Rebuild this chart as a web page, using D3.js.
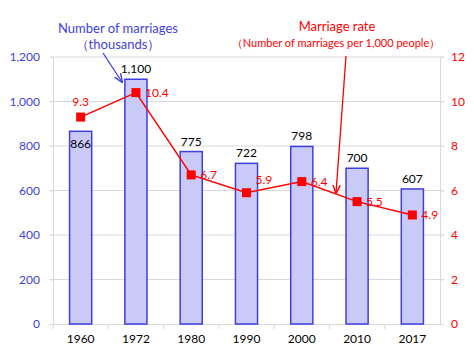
<!DOCTYPE html>
<html>
<head>
<meta charset="utf-8">
<script src="https://cdn.jsdelivr.net/npm/d3@7"></script>
<style>
  body { margin: 0; background: #fff; }
  svg text { font-family: Lato, "Liberation Sans", sans-serif; }
</style>
</head>
<body>
<div id="chart"></div>
<script>
// data
const years = ["1960", "1972", "1980", "1990", "2000", "2010", "2017"];
const marriages = [866, 1100, 775, 722, 798, 700, 607];     // thousands
const rates = [9.3, 10.4, 6.7, 5.9, 6.4, 5.5, 4.9];          // per 1,000 people
const leftTicks = [0, 200, 400, 600, 800, 1000, 1200];
const rightTicks = [0, 2, 4, 6, 8, 10, 12];

const W = 474, H = 352;
const margin = {top: 57, right: 34, bottom: 28, left: 53};

const svg = d3.select("#chart").append("svg")
    .attr("width", W)
    .attr("height", H);

// x scale
let x = d3.scaleBand()
    .domain(years)
    .range([margin.left, W - margin.right])
    .paddingInner(0.6)
    .paddingOuter(0.3);
let xOuter = d3.scaleBand()
    .domain(years)
    .range([margin.left, W - margin.right]);

// y scales
let yL = d3.scaleLinear().domain([0, 1200]).range([H - margin.bottom, margin.top]);
let yR = d3.scaleLinear().domain([0, 12]).range([H - margin.bottom, margin.top]);

const blue = "#3f3fe0", red = "#ff0000", grid = "#d9d9d9";

// gridlines
svg.append("g")
    .selectAll("line")
    .data(leftTicks.slice(1))
    .join("line")
    .attr("x1", margin.left - 3)
    .attr("x2", W - margin.right + 4)
    .attr("y1", d => yL(d))
    .attr("y2", d => yL(d))
    .attr("stroke", grid)
    .attr("stroke-width", 1);

// left axis
let axL = svg.append("g")
    .attr("transform", `translate(${margin.left},0)`)
    .call(d3.axisLeft(yL).tickValues(leftTicks).tickFormat(d3.format(",")).tickSize(3).tickPadding(10));
axL.selectAll("text").attr("fill", blue).attr("font-size", "12px");

// right axis
let axR = svg.append("g")
    .attr("transform", `translate(${W - margin.right},0)`)
    .call(d3.axisRight(yR).tickValues(rightTicks).tickSize(4).tickPadding(7));
axR.selectAll("text").attr("fill", red).attr("font-size", "12px");

// bottom axis
let axB = svg.append("g")
    .attr("transform", `translate(0,${H - margin.bottom})`)
    .call(d3.axisBottom(xOuter).tickSize(0).tickPadding(10));
axB.selectAll("text").attr("fill", "#000").attr("font-size", "12px");
// ticks between categories
axB.selectAll(".sep")
    .data(years)
    .join("line")
    .attr("class", "sep")
    .attr("x1", d => xOuter(d))
    .attr("x2", d => xOuter(d))
    .attr("y1", 0)
    .attr("y2", 5);

svg.selectAll(".domain, .tick line, .sep").attr("stroke", grid);

// bars
svg.append("g")
    .selectAll("rect")
    .data(marriages)
    .join("rect")
    .attr("x", (d, i) => x(years[i]))
    .attr("y", d => yL(d))
    .attr("width", x.bandwidth())
    .attr("height", d => yL(0) - yL(d))
    .attr("fill", "#cacaf8")
    .attr("stroke", blue)
    .attr("stroke-width", 1.5);

// bar labels
svg.append("g")
    .selectAll("text")
    .data(marriages)
    .join("text")
    .attr("x", (d, i) => x(years[i]) + x.bandwidth() / 2)
    .attr("y", (d, i) => i === 0 ? yL(d) + 17 : yL(d) - 6)
    .attr("text-anchor", "middle")
    .attr("font-size", "12px")
    .attr("fill", "#000")
    .text(d3.format(","));

// rate line
let cx = i => x(years[i]) + x.bandwidth() / 2;
svg.append("path")
    .datum(rates)
    .attr("fill", "none")
    .attr("stroke", red)
    .attr("stroke-width", 1.5)
    .attr("d", d3.line().x((d, i) => cx(i)).y(d => yR(d)));

svg.append("g")
    .selectAll("rect")
    .data(rates)
    .join("rect")
    .attr("x", (d, i) => cx(i) - 4.5)
    .attr("y", d => yR(d) - 4.5)
    .attr("width", 9)
    .attr("height", 9)
    .attr("fill", red);

// rate labels
svg.append("g")
    .selectAll("text")
    .data(rates)
    .join("text")
    .attr("x", (d, i) => i === 0 ? cx(i) : cx(i) + 9)
    .attr("y", (d, i) => i === 0 ? yR(d) - 11 : (i === 3 ? yR(d) - 9 : yR(d) + 4))
    .attr("text-anchor", (d, i) => i === 0 ? "middle" : "start")
    .attr("font-size", "12px")
    .attr("fill", red)
    .text(d => d.toFixed(1));

// arrow markers
let defs = svg.append("defs");
[["arrB", blue], ["arrR", red]].forEach(([id, c]) => {
    defs.append("marker")
        .attr("id", id)
        .attr("viewBox", "0 0 10 10")
        .attr("refX", 9).attr("refY", 5)
        .attr("markerWidth", 7).attr("markerHeight", 7)
        .attr("orient", "auto")
        .append("path")
        .attr("d", "M0,1 L10,5 L0,9")
        .attr("fill", "none")
        .attr("stroke", c)
        .attr("stroke-width", 1.5);
});

// series titles
svg.append("text").attr("x", 118).attr("y", 33).attr("text-anchor", "middle")
    .attr("font-size", "13px").attr("fill", blue).text("Number of marriages");
svg.append("text").attr("x", 118).attr("y", 49).attr("text-anchor", "middle")
    .attr("font-size", "13px").attr("fill", blue).text("（thousands）");
svg.append("line")
    .attr("x1", 103).attr("y1", 53).attr("x2", 122).attr("y2", 82)
    .attr("stroke", blue).attr("stroke-width", 1.3)
    .attr("marker-end", "url(#arrB)");

svg.append("text").attr("x", 337).attr("y", 31).attr("text-anchor", "middle")
    .attr("font-size", "13px").attr("fill", red).text("Marriage rate");
svg.append("text").attr("x", 336).attr("y", 47).attr("text-anchor", "middle")
    .attr("font-size", "11px").attr("fill", red).text("（Number of marriages per 1,000 people）");
svg.append("line")
    .attr("x1", 346).attr("y1", 56).attr("x2", 336).attr("y2", 193)
    .attr("stroke", red).attr("stroke-width", 1.3)
    .attr("marker-end", "url(#arrR)");
</script>
</body>
</html>
